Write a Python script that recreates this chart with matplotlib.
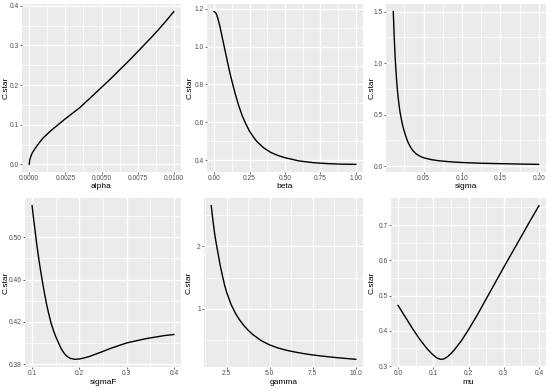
import matplotlib
matplotlib.use("Agg")
import matplotlib.pyplot as plt
from matplotlib.ticker import FixedLocator, AutoMinorLocator, FormatStrFormatter
from matplotlib.transforms import blended_transform_factory

plt.rcParams['font.family'] = ['Liberation Sans', 'DejaVu Sans']

# values
alpha = [0.0, 0.00003, 0.0001, 0.0002, 0.0003, 0.0005, 0.00075, 0.001, 0.0015, 0.002, 0.0025,
         0.003, 0.0035, 0.004, 0.0045, 0.005, 0.0055, 0.006, 0.0065, 0.007, 0.0075, 0.008,
         0.0085, 0.009, 0.0095, 0.01]
c_alpha = [0.0, 0.01, 0.019, 0.028, 0.034, 0.045, 0.057, 0.068, 0.085, 0.1, 0.115,
           0.129, 0.143, 0.16, 0.177, 0.194, 0.211, 0.229, 0.247, 0.265, 0.284, 0.303,
           0.322, 0.342, 0.363, 0.385]

beta = [0.0, 0.01, 0.02, 0.03, 0.04, 0.05, 0.06, 0.07, 0.08, 0.09, 0.1, 0.115, 0.13, 0.15,
        0.175, 0.2, 0.225, 0.25, 0.275, 0.3, 0.35, 0.4, 0.45, 0.5, 0.6, 0.7, 0.8, 0.9, 1.0]
c_beta = [1.185, 1.18, 1.165, 1.14, 1.11, 1.075, 1.04, 1.005, 0.97, 0.935, 0.9, 0.85, 0.805, 0.748,
          0.685, 0.632, 0.59, 0.553, 0.525, 0.5, 0.465, 0.441, 0.425, 0.413, 0.396, 0.387, 0.382,
          0.379, 0.378]

sigma = [0.0105, 0.011, 0.0115, 0.012, 0.0125, 0.013, 0.014, 0.015, 0.016, 0.017, 0.018, 0.019,
         0.02, 0.022, 0.024, 0.026, 0.028, 0.03, 0.033, 0.036, 0.04, 0.045, 0.05, 0.06, 0.07,
         0.08, 0.09, 0.1, 0.125, 0.15, 0.175, 0.2]
c_sigma = [1.5, 1.40, 1.30, 1.21, 1.13, 1.05, 0.93, 0.82, 0.73, 0.66, 0.595, 0.54,
           0.495, 0.42, 0.36, 0.31, 0.265, 0.228, 0.185, 0.152, 0.122, 0.098, 0.082, 0.064, 0.053,
           0.046, 0.04, 0.036, 0.029, 0.025, 0.021, 0.018]

sigmaF = [0.1, 0.1025, 0.105, 0.1075, 0.11, 0.115, 0.12, 0.125, 0.13, 0.135, 0.14, 0.145, 0.15,
          0.155, 0.16, 0.165, 0.17, 0.175, 0.18, 0.19, 0.2, 0.21, 0.22, 0.235, 0.25, 0.265, 0.28,
          0.3, 0.32, 0.34, 0.36, 0.38, 0.4]
c_sigmaF = [0.530, 0.520, 0.511, 0.502, 0.493, 0.477, 0.463, 0.45, 0.438, 0.428, 0.419, 0.412, 0.406,
            0.401, 0.396, 0.392, 0.389, 0.387, 0.3855, 0.3845, 0.3848, 0.3858, 0.387, 0.3895, 0.392,
            0.3947, 0.397, 0.4, 0.402, 0.404, 0.4055, 0.407, 0.408]

gamma = [1.6, 1.7, 1.8, 1.9, 2.0, 2.125, 2.25, 2.375, 2.5, 2.75, 3.0, 3.25, 3.5, 3.75, 4.0,
         4.5, 5.0, 5.5, 6.0, 6.5, 7.0, 7.5, 8.0, 8.5, 9.0, 9.5, 10.0]
c_gamma = [2.65, 2.41, 2.2, 2.03, 1.88, 1.69, 1.53, 1.38, 1.26, 1.07, 0.93, 0.82, 0.73, 0.655, 0.59,
           0.49, 0.42, 0.37, 0.333, 0.305, 0.28, 0.26, 0.243, 0.228, 0.214, 0.202, 0.19]

mu = [0.0, 0.02, 0.04, 0.06, 0.08, 0.09, 0.1, 0.11, 0.12, 0.13, 0.14, 0.15, 0.16, 0.18, 0.2,
      0.225, 0.25, 0.275, 0.3, 0.325, 0.35, 0.375, 0.4]
c_mu = [0.472, 0.44, 0.408, 0.378, 0.352, 0.341, 0.331, 0.323, 0.319, 0.32, 0.326, 0.335, 0.346,
        0.372, 0.403, 0.445, 0.49, 0.535, 0.58, 0.624, 0.668, 0.712, 0.755]

# axis ticks of each panel
alpha_ticks = [0.0, 0.0025, 0.005, 0.0075, 0.01]
beta_ticks = [0.0, 0.25, 0.5, 0.75, 1.0]
sigma_ticks = [0.05, 0.10, 0.15, 0.20]
sigmaF_ticks = [0.1, 0.2, 0.3, 0.4]
gamma_ticks = [2.5, 5.0, 7.5, 10.0]
mu_ticks = [0.0, 0.1, 0.2, 0.3, 0.4]

c_alpha_ticks = [0.0, 0.1, 0.2, 0.3, 0.4]
c_beta_ticks = [0.4, 0.6, 0.8, 1.0, 1.2]
c_sigma_ticks = [0.0, 0.5, 1.0, 1.5]
c_sigmaF_ticks = [0.38, 0.42, 0.46, 0.50]
c_gamma_ticks = [1, 2]
c_mu_ticks = [0.3, 0.4, 0.5, 0.6, 0.7]

# panel box in pixels (left, top, right, bottom), ylabel x, xlabel y
panels = [
    (alpha, c_alpha, "alpha", alpha_ticks, "%.4f", c_alpha_ticks, "%.1f", (22, 4, 181, 172), 6, 187),
    (beta, c_beta, "beta", beta_ticks, "%.2f", c_beta_ticks, "%.1f", (207, 4, 363, 172), 190, 187),
    (sigma, c_sigma, "sigma", sigma_ticks, "%.2f", c_sigma_ticks, "%.1f", (386, 4, 546, 172), 372, 187),
    (sigmaF, c_sigmaF, "sigmaF", sigmaF_ticks, "%.1f", c_sigmaF_ticks, "%.2f", (25, 198, 181, 367), 6, 383),
    (gamma, c_gamma, "gamma", gamma_ticks, "%.1f", c_gamma_ticks, "%d", (204, 198, 363, 367), 189, 383),
    (mu, c_mu, "mu", mu_ticks, "%.1f", c_mu_ticks, "%.1f", (391, 198, 546, 367), 372, 383),
]

W, H = 550, 389
fig = plt.figure(figsize=(5.5, 3.89), dpi=100)

for x, y, name, xt, xf, yt, yf, (l, t, r, b), ylx, xly in panels:
    ax = fig.add_axes([l / W, 1 - b / H, (r - l) / W, (b - t) / H])
    ax.set_facecolor("#EBEBEB")
    ax.plot(x, y, color="black", lw=1.0, zorder=3)
    # ggplot style 5% expansion
    dx = (max(x) - min(x)) * 0.05
    dy = (max(y) - min(y)) * 0.05
    ax.set_xlim(min(x) - dx, max(x) + dx)
    ax.set_ylim(min(y) - dy, max(y) + dy)
    ax.xaxis.set_major_locator(FixedLocator(xt))
    ax.yaxis.set_major_locator(FixedLocator(yt))
    ax.xaxis.set_major_formatter(FormatStrFormatter(xf))
    ax.yaxis.set_major_formatter(FormatStrFormatter(yf))
    ax.xaxis.set_minor_locator(AutoMinorLocator(2))
    ax.yaxis.set_minor_locator(AutoMinorLocator(2))
    ax.grid(which="major", color="white", lw=1.0)
    ax.grid(which="minor", color="white", lw=0.5)
    ax.set_axisbelow(True)
    for s in ax.spines.values():
        s.set_visible(False)
    ax.tick_params(which="major", length=1.5, width=0.5, color="#333333",
                   labelsize=4.8, labelcolor="#4D4D4D", pad=0.8)
    ax.tick_params(which="minor", length=0)
    ax.set_xlabel(name, fontsize=6, va="center")
    ax.set_ylabel("C.star", fontsize=6, va="center")
    ax.xaxis.set_label_coords(0.5, 1 - xly / H,
                              transform=blended_transform_factory(ax.transAxes, fig.transFigure))
    ax.yaxis.set_label_coords(ylx / W, 0.5,
                              transform=blended_transform_factory(fig.transFigure, ax.transAxes))

fig.savefig("out.png", dpi=100)
